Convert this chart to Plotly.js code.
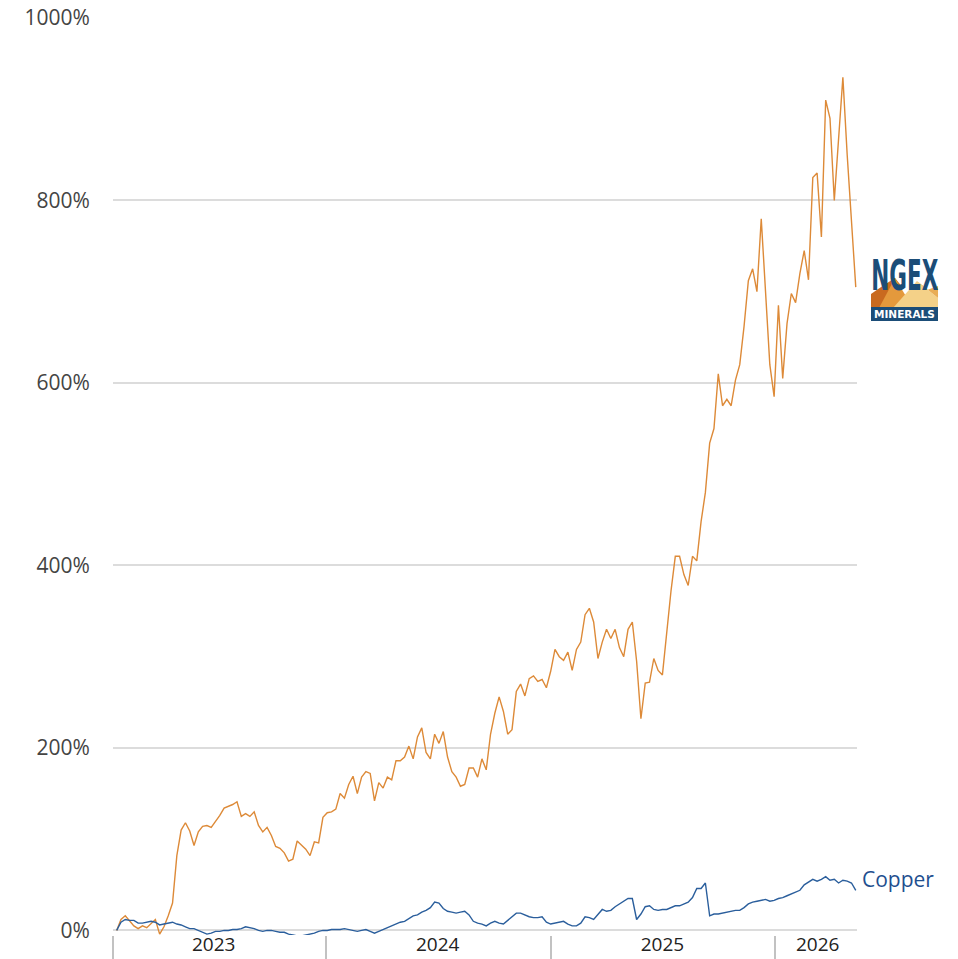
<!DOCTYPE html>
<html>
<head>
<meta charset="utf-8">
<script src="https://cdn.plot.ly/plotly-3.0.1.min.js"></script>
<style>
  html, body { margin: 0; padding: 0; background: #fff; }
  #chart { width: 958px; height: 959px; }
</style>
</head>
<body>
<div id="chart"></div>
<script>
// ---- Data (weekly closes, % change since start) ----
const START_DATE = '2023-01-25';
const STEP_MS = 7 * 24 * 3600 * 1000; // one week

const ngexValues = [
  0,12,16,10,5,2,5,3,8,12,
  -4,4,16,30,82,110,118,109,93,108,
  114,115,113,119,126,134,136,138,141,125,
  128,125,130,115,108,113,104,92,90,85,
  76,78,98,93,89,82,97,96,124,129,
  130,133,150,145,160,169,150,168,174,172,
  142,162,156,168,165,186,186,190,202,188,
  212,222,195,188,215,205,218,190,174,168,
  158,160,178,178,168,188,176,215,238,256,
  240,215,220,262,270,257,276,279,273,275,
  266,284,308,300,296,305,285,308,316,346,
  353,338,298,316,330,320,330,310,300,330,
  338,295,232,271,272,298,285,280,330,372,
  410,410,390,378,410,405,448,480,534,550,
  610,575,582,575,603,620,662,712,725,700,
  780,700,620,585,685,605,665,698,688,720,
  745,713,825,830,760,910,890,800,870,935,
  850,780,705
];

const copperValues = [
  0,9,12,11,11,8,8,9,10,9,
  6,7,8,9,7,6,4,2,2,0,
  -2,-4,-3,-1,-1,0,0,1,1,2,
  4,3,2,0,-1,0,0,-1,-2,-2,
  -4,-5,-6,-6,-5,-4,-3,-1,0,0,
  1,1,1,2,1,0,-1,0,1,-1,
  -3,-1,1,3,5,7,9,10,13,16,
  17,20,22,25,31,30,24,21,20,19,
  20,21,17,10,8,7,5,8,10,8,
  7,11,15,19,19,17,15,14,14,15,
  9,7,8,9,10,7,5,5,8,15,
  14,12,18,23,21,22,26,29,32,35,
  35,12,18,26,27,23,22,23,23,25,
  27,27,29,31,36,46,46,52,16,18,
  18,19,20,21,22,22,25,29,31,32,
  33,34,32,33,35,36,38,40,42,44,
  50,53,56,54,56,59,55,56,52,55,
  54,52,44
];

const X_RANGE = ['2023-01-19', '2026-05-15'];
const yearLabels = ['2023', '2024', '2025', '2026'];
const yearLabelPos = ['2023-07-02', '2024-07-01', '2025-07-02', '2026-03-12'];
const yearSeparators = ['2023-01-19', '2024-01-01', '2025-01-01', '2026-01-01'];
const yTickVals = [0, 200, 400, 600, 800, 1000];
const yTickText = ['0%', '200%', '400%', '600%', '800%', '1000%'];
const copperLabel = 'Copper';
const logoWord = 'NGEX';
const logoSub = 'MINERALS';

// ---- Styling ----
const ORANGE = '#dd8a38';
const BLUE = '#2a5e9c';
const LOGO_BLUE = '#1b4d78';
const M = {l: 113, r: 101, t: 17, b: 24};
const PW = 958 - M.l - M.r, PH = 959 - M.t - M.b;
// pixel -> paper conversion for the decorative logo only
const px = x => (x - M.l) / PW;
const py = y => (959 - M.b - y) / PH;
const poly = pts => 'M' + pts.map(p => px(p[0]).toFixed(4) + ',' + py(p[1]).toFixed(4)).join(' L') + ' Z';

const traces = [
  {
    type: 'scatter', mode: 'lines', name: 'NGEX Minerals',
    x0: START_DATE, dx: STEP_MS, y: ngexValues,
    xaxis: 'x', yaxis: 'y',
    line: {color: ORANGE, width: 1.4}, hoverinfo: 'skip'
  },
  {
    type: 'scatter', mode: 'lines', name: 'Copper',
    x0: START_DATE, dx: STEP_MS, y: copperValues,
    xaxis: 'x2', yaxis: 'y',
    line: {color: BLUE, width: 1.4}, hoverinfo: 'skip'
  }
];

const shapes = [
  // logo mountains
  {type: 'path', xref: 'paper', yref: 'paper', path: poly([[871,308],[871,294],[884,285],[895,278],[903,288],[889,308]]), fillcolor: '#c96a1f', line: {width: 0}},
  {type: 'path', xref: 'paper', yref: 'paper', path: poly([[879,308],[895,278],[913,308]]), fillcolor: '#e4993c', line: {width: 0}},
  {type: 'path', xref: 'paper', yref: 'paper', path: poly([[893,308],[917,281],[938,298],[938,308]]), fillcolor: '#f4d188', line: {width: 0}},
  {type: 'path', xref: 'paper', yref: 'paper', path: poly([[917,281],[927,290],[938,286],[938,298]]), fillcolor: '#e9ad55', line: {width: 0}},
  // logo band
  {type: 'rect', xref: 'paper', yref: 'paper', x0: px(871), x1: px(938), y0: py(321), y1: py(307), fillcolor: LOGO_BLUE, line: {width: 0}}
];

const annotations = [
  {
    xref: 'x', yref: 'y', x: X_RANGE[1], y: copperValues[copperValues.length - 1] + 12,
    text: copperLabel, showarrow: false, xanchor: 'left', yanchor: 'middle', xshift: 3,
    font: {family: 'Open Sans, sans-serif', size: 21, color: '#1f4f8f'}
  },
  {
    xref: 'paper', yref: 'paper', x: px(904.5), y: py(276), text: '<b>' + logoWord + '</b>',
    showarrow: false, xanchor: 'center', yanchor: 'middle',
    font: {family: 'DejaVu Sans Condensed, Liberation Sans Narrow, DejaVu Sans', size: 42, color: LOGO_BLUE}
  },
  {
    xref: 'paper', yref: 'paper', x: px(904.5), y: py(314), text: '<b>' + logoSub + '</b>',
    showarrow: false, xanchor: 'center', yanchor: 'middle',
    font: {family: 'DejaVu Sans, sans-serif', size: 10.5, color: '#ffffff'}
  }
];

const layout = {
  width: 958, height: 959,
  margin: M,
  paper_bgcolor: '#ffffff', plot_bgcolor: '#ffffff',
  showlegend: false,
  font: {family: 'Open Sans, sans-serif', color: '#333'},
  xaxis: {
    type: 'date', range: X_RANGE, showgrid: false, zeroline: false, showline: false,
    tickmode: 'array', tickvals: yearLabelPos, ticktext: yearLabels, ticks: '',
    ticklabelstandoff: -4,
    tickfont: {family: 'Open Sans, sans-serif', size: 19, color: '#222'}
  },
  xaxis2: {
    type: 'date', overlaying: 'x', matches: 'x', side: 'bottom',
    showgrid: false, zeroline: false, showline: false,
    tickmode: 'array', tickvals: yearSeparators, ticktext: ['', '', '', ''],
    ticks: 'outside', ticklen: 26, tickwidth: 2, tickcolor: '#c2c2c2', showticklabels: false
  },
  yaxis: {
    range: [-5, 1001], tickmode: 'array', tickvals: yTickVals, ticktext: yTickText,
    showgrid: true, gridcolor: '#dcdcdc', gridwidth: 2, zeroline: false, showline: false,
    ticks: 'outside', ticklen: 18, tickcolor: 'rgba(0,0,0,0)',
    tickfont: {family: 'Open Sans, sans-serif', size: 21, color: '#444'}
  },
  shapes: shapes,
  annotations: annotations
};

Plotly.newPlot('chart', traces, layout, {staticPlot: true, displayModeBar: false}).then(gd => {
  // squeeze the logo word horizontally to fit the logo width
  const g = gd.querySelector('.annotation[data-index="1"] text');
  if (g) {
    const bb = g.getBBox();
    const target = 67;
    const sx = target / bb.width;
    const cx = bb.x + bb.width / 2;
    g.setAttribute('transform', `translate(${cx},0) scale(${sx},1) translate(${-cx},0)`);
  }
});
</script>
</body>
</html>
